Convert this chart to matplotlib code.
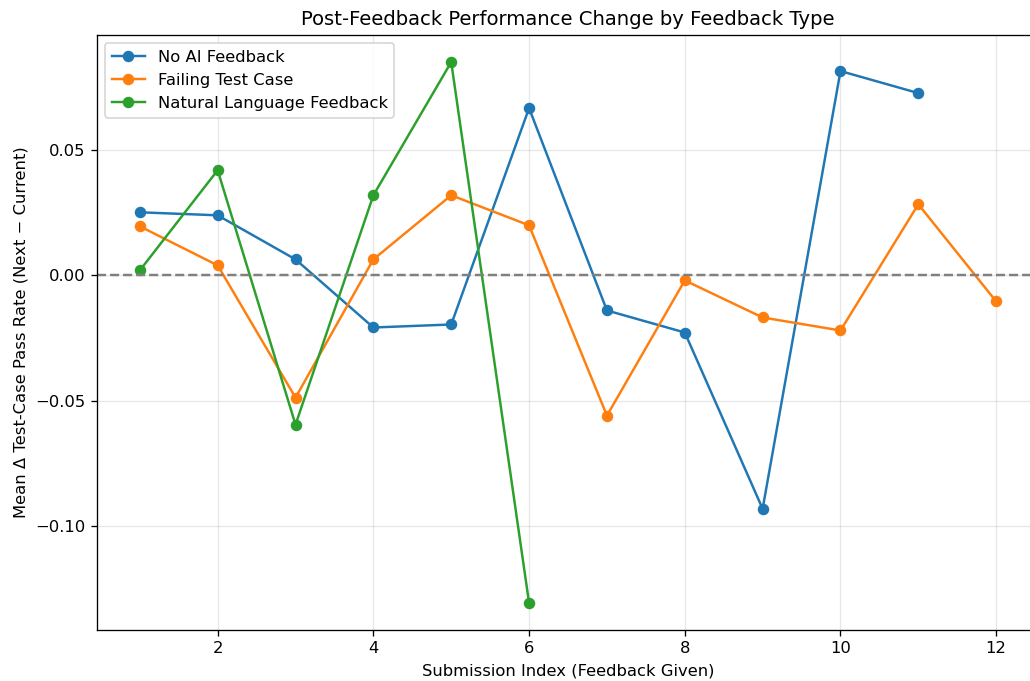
import matplotlib
matplotlib.use("Agg")
import matplotlib.pyplot as plt

# submission index (feedback given)
idx_none = [1, 2, 3, 4, 5, 6, 7, 8, 9, 10, 11]
idx_fail = [1, 2, 3, 4, 5, 6, 7, 8, 9, 10, 11, 12]
idx_nl = [1, 2, 3, 4, 5, 6]

# mean change in pass rate (next - current)
no_ai = [0.0252, 0.0240, 0.0064, -0.0208, -0.0196, 0.0668, -0.0140, -0.0228, -0.0932, 0.0816, 0.0728]
failing = [0.0196, 0.0040, -0.0488, 0.0064, 0.0320, 0.0200, -0.0560, -0.0020, -0.0168, -0.0220, 0.0284, -0.0104]
natural = [0.0020, 0.0420, -0.0596, 0.0320, 0.0852, -0.1308]

dpi = 118
fig, ax = plt.subplots(figsize=(1030 / dpi, 681 / dpi), dpi=dpi)
# right edge of the axes sits just past the image border, like the reference crop
fig.subplots_adjust(left=97 / 1030, right=1039 / 1030, top=1 - 35 / 681, bottom=1 - 630 / 681)

ax.plot(idx_none, no_ai, marker="o", label="No AI Feedback")
ax.plot(idx_fail, failing, marker="o", label="Failing Test Case")
ax.plot(idx_nl, natural, marker="o", label="Natural Language Feedback")
ax.axhline(0, color="gray", linestyle="--", linewidth=1.5)

ax.set_title("Post-Feedback Performance Change by Feedback Type")
ax.set_xlabel("Submission Index (Feedback Given)")
ax.set_ylabel("Mean \u0394 Test-Case Pass Rate (Next \u2212 Current)")
ax.grid(True, alpha=0.3)
ax.legend(loc="upper left")

fig.savefig("out.png", dpi=dpi)
